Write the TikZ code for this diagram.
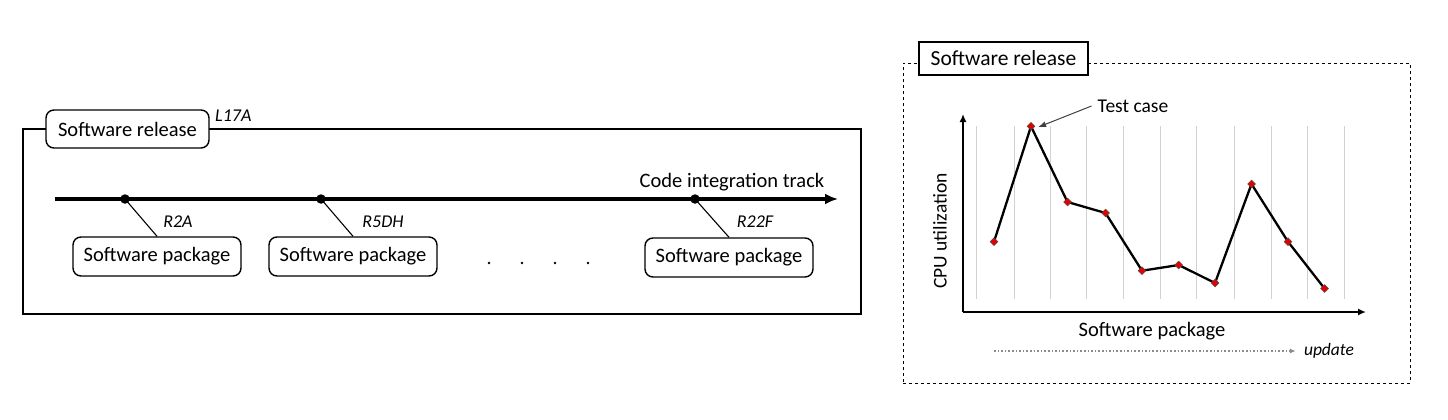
\documentclass[tikz,border=0pt]{standalone}
\usepackage{fontspec}
\setmainfont{Carlito}
\usetikzlibrary{arrows.meta,shapes.geometric}
\begin{document}
\begin{tikzpicture}[x=1pt,y=-1pt,
  frame/.style={draw, line width=1.4pt, inner sep=0pt},
  rbox/.style={draw, rounded corners=8pt, line width=1.4pt, fill=white, inner sep=0pt, font=\fontsize{20.5}{24}\selectfont},
  pkg/.style={rbox, minimum width=168pt, minimum height=39pt},
  lbl/.style={font=\fontsize{18}{22}\selectfont\itshape, inner sep=0pt},
  txt/.style={font=\fontsize{20.5}{24}\selectfont, inner sep=0pt},
  tdot/.style={circle, fill=black, inner sep=0pt, minimum size=9.5pt},
  edot/.style={circle, fill=black, inner sep=0pt, minimum size=2.8pt},
  conn/.style={line width=1.1pt},
  grid/.style={draw=black!18, line width=0.9pt},
  marker/.style={diamond, draw=black!70, fill=red!90!black, line width=0.5pt, inner sep=0pt, minimum size=8pt},
  series/.style={line width=2.3pt, line join=round},
  axis/.style={line width=2pt, -{Latex[length=8pt,width=7pt]}}
]
\useasboundingbox (0,0) rectangle (1448,420);

% ---------- left panel ----------
\node[frame, minimum width=838pt, minimum height=185pt] (lframe) at (442,221.5) {};
\node[rbox, minimum width=163pt, minimum height=38pt] (lrel) at (127.5,129) {Software release};
\node[lbl, anchor=west] (l17a) at (215,116) {L17A};

\coordinate (tstart) at (55,199);
\coordinate (tend) at (838,199);
\draw[line width=3.2pt, -{Latex[length=13pt,width=11pt]}] (tstart) -- (tend);
\node[txt] (track) at (732,182) {Code integration track};

\node[tdot] (d1) at (125,199) {};
\node[tdot] (d2) at (321,199) {};
\node[tdot] (d3) at (695,199) {};

\node[pkg] (p1) at (157,256.5) {Software package};
\node[pkg] (p2) at (353,256.5) {Software package};
\node[pkg] (p3) at (729,257.5) {Software package};

\draw[conn] (d1.center) -- (p1.north);
\draw[conn] (d2.center) -- (p2.north);
\draw[conn] (d3.center) -- (p3.north);

\node[lbl] (r2a) at (178,222) {R2A};
\node[lbl] (r5dh) at (383,222) {R5DH};
\node[lbl] (r22f) at (755,222) {R22F};

\node[edot] (e1) at (489,263) {};
\node[edot] (e2) at (522,263) {};
\node[edot] (e3) at (555,263) {};
\node[edot] (e4) at (588,263) {};

% ---------- right panel ----------
\node[draw, dashed, line width=0.9pt, minimum width=507pt, minimum height=320pt, inner sep=0pt] (rframe) at (1156.5,223) {};
\node[draw, line width=1.1pt, fill=white, minimum width=169pt, minimum height=33pt, inner sep=0pt, font=\fontsize{21.5}{25}\selectfont] (rrel) at (1003.5,58.5) {Software release};

\foreach \gx in {976,1014,1050,1086,1123,1160,1196,1234,1271,1307,1344}
  \draw[grid] (\gx,126) -- (\gx,299);

\coordinate (o) at (963,312);
\coordinate (ytop) at (963,114);
\coordinate (xend) at (1366,312);
\draw[axis] (o) -- (ytop);
\draw[axis] (o) -- (xend);

\coordinate (c1) at (994,241.7);
\coordinate (c2) at (1031,126.3);
\coordinate (c3) at (1067.5,202);
\coordinate (c4) at (1105.5,213);
\coordinate (c5) at (1142,270.7);
\coordinate (c6) at (1178.7,265);
\coordinate (c7) at (1215,283);
\coordinate (c8) at (1251.5,184);
\coordinate (c9) at (1288,241.7);
\coordinate (c10) at (1324.5,288.5);
\draw[series] (c1) -- (c2) -- (c3) -- (c4) -- (c5) -- (c6) -- (c7) -- (c8) -- (c9) -- (c10);
\foreach \i in {1,...,10}
  \node[marker] (m\i) at (c\i) {};

\node[font=\fontsize{19.5}{23}\selectfont, inner sep=0pt] (tc) at (1133,106) {Test case};
\draw[black!75, line width=1pt, -{Latex[length=8pt,width=6pt]}] ([xshift=-6pt]tc.west) -- ([shift={(5pt,-3pt)}]m2.north east);

\node[font=\fontsize{19.5}{23}\selectfont, inner sep=0pt, rotate=90] (cpu) at (940,231) {CPU utilization};
\node[txt] (swp) at (1152,331) {Software package};

\coordinate (u0) at (994,351);
\node[font=\fontsize{17.5}{21}\selectfont\itshape, inner sep=0pt] (upd) at (1329,351) {update};
\draw[black!45, dotted, line width=1.6pt, -{Latex[length=6pt,width=5pt]}] (u0) -- ([xshift=-8pt]upd.west);
\end{tikzpicture}
\end{document}
